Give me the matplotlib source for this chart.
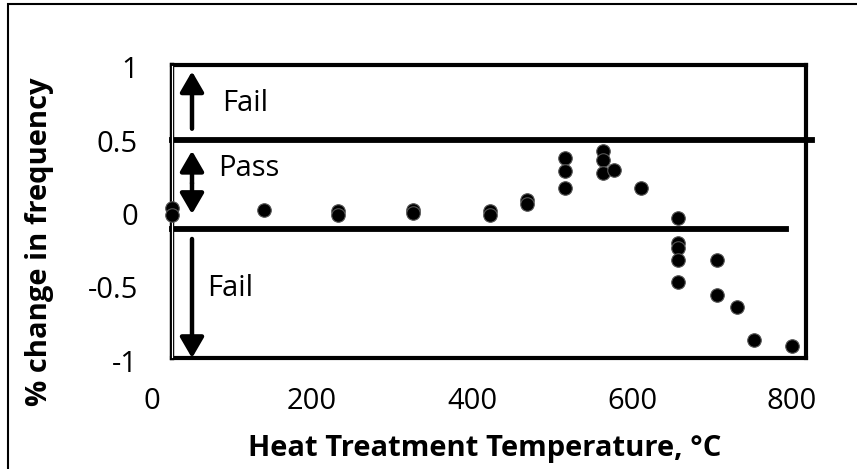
import matplotlib
matplotlib.use("Agg")
import matplotlib.pyplot as plt
from matplotlib.patches import Rectangle

plt.rcParams['font.family'] = ['Open Sans', 'DejaVu Sans']

# heat treatment temperature (C) and measured % change in frequency
temps = [25, 25, 140, 232, 232, 326, 326, 422, 422, 469, 469,
         516, 516, 516, 564, 564, 564, 578, 611,
         658, 658, 658, 658, 658, 706, 706, 731, 752, 800]
changes = [0.04, -0.01, 0.03, 0.02, -0.01, 0.03, 0.01, 0.02, -0.01, 0.095, 0.07,
           0.38, 0.29, 0.18, 0.43, 0.37, 0.28, 0.30, 0.18,
           -0.03, -0.20, -0.23, -0.31, -0.46, -0.31, -0.55, -0.63, -0.86, -0.90]

x_ticks = [0, 200, 400, 600, 800]
y_ticks = [-1, -0.5, 0, 0.5, 1]
y_tick_labels = ["-1", "-0.5", "0", "0.5", "1"]

# pass band limits and the outline of the annotation box
pass_upper = 0.5
pass_lower = -0.1
box_left, box_right = 25, 817
box_top, box_bottom = 1.015, -0.98

W, H = 857, 469
fig = plt.figure(figsize=(W / 100, H / 100), dpi=100)
ax = fig.add_axes([152 / W, 108 / H, 640 / W, 294 / H])

ax.scatter(temps, changes, s=95, color="black", edgecolors="#555555",
           linewidths=0.8, zorder=5, clip_on=False)

ax.set_xlim(0, 800)
ax.set_ylim(-1, 1)
ax.set_xticks(x_ticks)
ax.set_yticks(y_ticks)
ax.set_yticklabels(y_tick_labels)
ax.tick_params(length=0, labelsize=21, colors="black")
ax.tick_params(axis="x", pad=19)
ax.tick_params(axis="y", pad=10)
for s in ax.spines.values():
    s.set_visible(False)

# box around the pass/fail regions
lw_box = 3.0
ax.plot([box_left, box_right], [box_top, box_top], color="black", lw=lw_box,
        clip_on=False, solid_capstyle="projecting")
ax.plot([box_left, box_right], [box_bottom, box_bottom], color="black", lw=lw_box,
        clip_on=False, solid_capstyle="projecting")
ax.plot([box_right, box_right], [box_bottom, box_top], color="black", lw=lw_box,
        clip_on=False, solid_capstyle="projecting")
ax.plot([box_left, box_left], [box_bottom, box_top], color="black", lw=3.2,
        clip_on=False, solid_capstyle="projecting")
ax.plot([box_left, box_left], [box_bottom + 0.01, box_top - 0.01], color="white",
        lw=0.8, clip_on=False, zorder=3)

# pass band boundaries
ax.plot([box_left, 825], [pass_upper, pass_upper], color="black", lw=4.2,
        clip_on=False)
ax.plot([box_left, 792], [pass_lower, pass_lower], color="black", lw=4.2,
        clip_on=False)

arrow_x = 50
arrow_style = dict(arrowstyle="-|>,head_width=0.36,head_length=0.62",
                   color="black", lw=3.2, mutation_scale=20,
                   shrinkA=0, shrinkB=0)


def arrow(y_from, y_to):
    ax.annotate("", xy=(arrow_x, y_to), xytext=(arrow_x, y_from),
                arrowprops=arrow_style, annotation_clip=False)


arrow(0.58, 0.97)
# double-headed arrow for the pass band
arrow(0.21, 0.43)
arrow(0.21, 0.0)
arrow(-0.17, -0.98)

ax.text(88, 0.75, "Fail", fontsize=21, va="center", ha="left")
ax.text(83, 0.31, "Pass", fontsize=21, va="center", ha="left")
ax.text(69, -0.51, "Fail", fontsize=21, va="center", ha="left")

fig.text(485 / W, 1 - 448 / H, "Heat Treatment Temperature, \u00b0C",
         fontsize=21, fontweight="bold", ha="center", va="center")
fig.text(40 / W, 1 - 242 / H, "% change in frequency", fontsize=21,
         fontweight="bold", rotation=90, ha="center", va="center")

# outer chart frame
fig.patches.append(Rectangle((8 / W, -0.1), 1.2, 1 - 4 / H + 0.1,
                             transform=fig.transFigure, fill=False,
                             edgecolor="black", lw=1.5))

fig.savefig("out.png", dpi=100)
